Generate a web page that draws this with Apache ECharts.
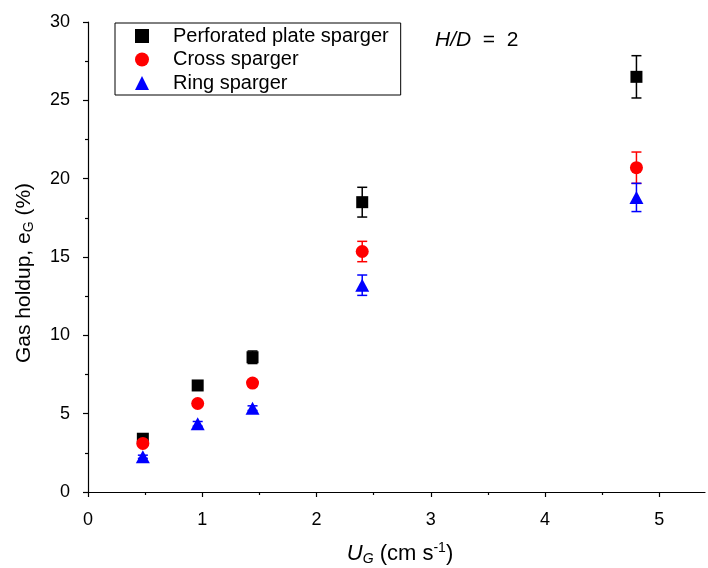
<!DOCTYPE html>
<html><head><meta charset="utf-8">
<script src="https://cdn.jsdelivr.net/npm/echarts@6/dist/echarts.min.js"></script>
<style>html,body{margin:0;padding:0;background:#fff}#c{width:708px;height:568px}</style>
</head><body><div id="c"></div>
<script>
const ug = [0.48, 0.96, 1.44, 2.4, 4.8];
const perforated = [3.4, 6.8, 8.6, 18.5, 26.5];
const perforatedErr = [0.2, 0.2, 0.4, 0.95, 1.35];
const cross = [3.1, 5.65, 6.95, 15.35, 20.7];
const crossErr = [0.15, 0.15, 0.2, 0.65, 1.0];
const ring = [2.25, 4.35, 5.35, 13.2, 18.8];
const ringErr = [0.1, 0.15, 0.15, 0.65, 0.9];
const names = ['Perforated plate sparger', 'Cross sparger', 'Ring sparger'];
const xTicks = [0, 1, 2, 3, 4, 5];
const xMinorTicks = [0.5, 1.5, 2.5, 3.5, 4.5];
const yTicks = [0, 5, 10, 15, 20, 25, 30];

const F = 'Liberation Sans, Arial, sans-serif';
function pts(v){ return ug.map((x,i)=>[x, v[i]]); }
function errs(v,e){ return ug.map((x,i)=>[x, v[i]-e[i], v[i]+e[i]]); }
function errSeries(v,e,color){
  return {
    type:'custom', data: errs(v,e), z: 1, silent:true,
    renderItem: function(params, api){
      const x = api.value(0);
      const lo = api.coord([x, api.value(1)]);
      const hi = api.coord([x, api.value(2)]);
      const w = 5;
      const st = {stroke: color, lineWidth: 1.5};
      return {type:'group', children:[
        {type:'line', shape:{x1:lo[0],y1:lo[1],x2:hi[0],y2:hi[1]}, style:st},
        {type:'line', shape:{x1:lo[0]-w,y1:lo[1],x2:lo[0]+w,y2:lo[1]}, style:st},
        {type:'line', shape:{x1:hi[0]-w,y1:hi[1],x2:hi[0]+w,y2:hi[1]}, style:st}
      ]};
    }
  };
}
const axLine = {color:'#000', width:1.2};
const chart = echarts.init(document.getElementById('c'));
chart.setOption({
  animation:false,
  backgroundColor:'#fff',
  grid:{left:88, top:22, right:3, bottom:76},
  legend:{
    data: names, orient:'vertical', left:115, top:23,
    padding:[3,12,2,20], borderColor:'#000', borderWidth:1, borderRadius:0,
    itemWidth:14, itemHeight:14, itemGap:3.5,
    textStyle:{fontFamily:F, fontSize:20, lineHeight:20, color:'#000', padding:[0,0,0,19]}
  },
  xAxis:[{
    type:'value', min:0, max:5.4,
    axisLine:{lineStyle:axLine},
    axisTick:{show:true, length:5, customValues:xTicks, lineStyle:axLine},
    splitLine:{show:false},
    axisLabel:{fontFamily:F, fontSize:18, color:'#000', margin:19, customValues:xTicks}
  },{
    type:'value', min:0, max:5.4, position:'bottom',
    axisLine:{show:false},
    axisTick:{show:true, length:3, customValues:xMinorTicks, lineStyle:axLine},
    splitLine:{show:false},
    axisLabel:{show:false}
  }],
  yAxis:{
    type:'value', min:0, max:30, interval:5,
    axisLine:{show:true, lineStyle:axLine},
    axisTick:{show:true, length:5, lineStyle:axLine},
    minorTick:{show:true, splitNumber:2, length:3, lineStyle:axLine},
    splitLine:{show:false},
    axisLabel:{fontFamily:F, fontSize:18, color:'#000', margin:18,
      formatter: v => yTicks.indexOf(v) >= 0 ? String(v) : ''}
  },
  graphic:[
    {type:'text', left:435, top:30, style:{
      text:'{i|H/D}  =  2', fontFamily:F, fontSize:21, fill:'#000',
      rich:{i:{fontStyle:'italic', fontFamily:F, fontSize:21}}}},
    {type:'text', x:24, y:273, rotation:Math.PI/2, style:{
      text:'Gas holdup, e{s|G} (%)', fontFamily:F, fontSize:21, fill:'#000',
      align:'center', verticalAlign:'middle',
      rich:{s:{fontSize:14, fontFamily:F, padding:[10,0,0,0], verticalAlign:'bottom'}}}},
    {type:'text', x:400, y:554, style:{
      text:'{i|U}{s|G} (cm s{p|-1})', fontFamily:F, fontSize:22, fill:'#000',
      align:'center', verticalAlign:'middle',
      rich:{i:{fontStyle:'italic', fontSize:22, fontFamily:F},
            s:{fontStyle:'italic', fontSize:14, fontFamily:F, padding:[11,0,0,0], verticalAlign:'bottom'},
            p:{fontSize:14, fontFamily:F, padding:[0,0,10,0], verticalAlign:'top'}}}}
  ],
  series:[
    errSeries(perforated, perforatedErr, '#000'),
    errSeries(cross, crossErr, '#ff0000'),
    errSeries(ring, ringErr, '#0000ff'),
    {name:names[0], type:'scatter', data:pts(perforated), symbol:'rect', symbolSize:12, z:3,
      itemStyle:{color:'#000', opacity:1}},
    {name:names[1], type:'scatter', data:pts(cross), symbol:'circle', symbolSize:13, z:4,
      itemStyle:{color:'#ff0000', opacity:1}},
    {name:names[2], type:'scatter', data:pts(ring), symbol:'triangle', symbolSize:[14,13], z:5,
      itemStyle:{color:'#0000ff', opacity:1}}
  ]
});
</script></body></html>
